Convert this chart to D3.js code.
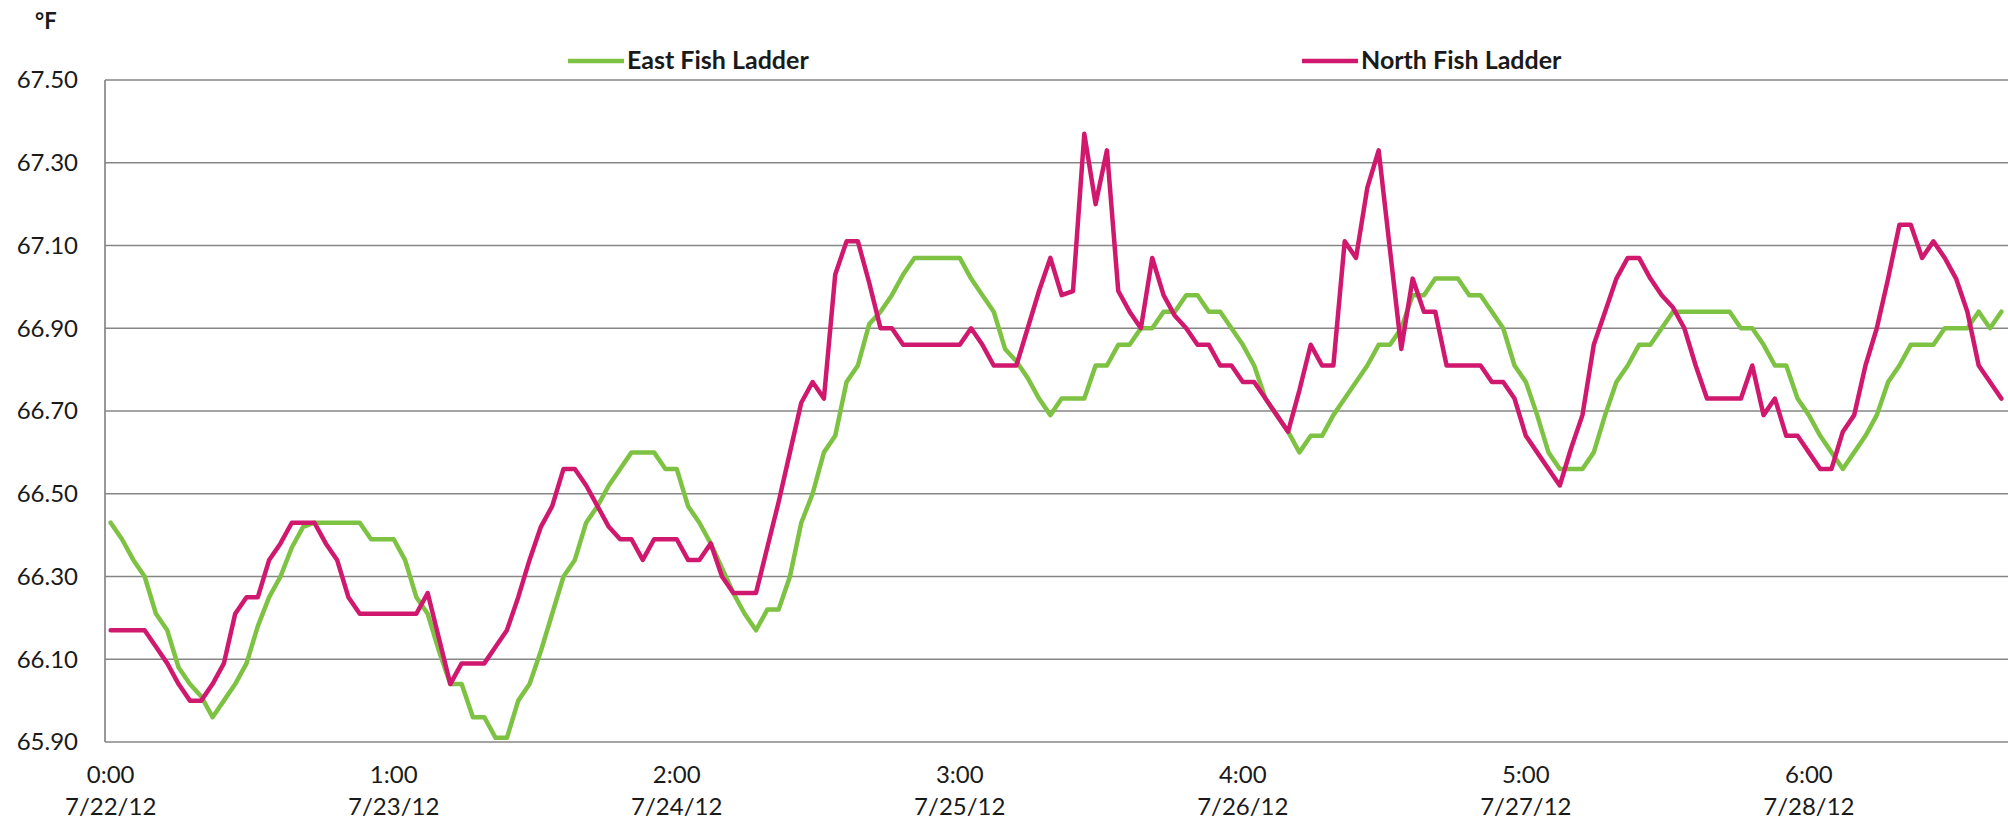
<!DOCTYPE html>
<html>
<head>
<meta charset="utf-8">
<script src="https://cdn.jsdelivr.net/npm/d3@7"></script>
<style>
  html, body { margin: 0; padding: 0; background: #fff; }
  text { font-family: Lato, 'Open Sans', sans-serif; fill: #1a1a1a; }
</style>
</head>
<body>
<div class="canvas"></div>
<script>
// hourly readings, 7/22/12 0:00 onward (deg F)
const eastFishLadder = [
  66.43, 66.39, 66.34, 66.30, 66.21, 66.17, 66.08, 66.04, 66.01, 65.96,
  66.00, 66.04, 66.09, 66.18, 66.25, 66.30, 66.37, 66.42, 66.43, 66.43,
  66.43, 66.43, 66.43, 66.39, 66.39, 66.39, 66.34, 66.25, 66.21, 66.12,
  66.04, 66.04, 65.96, 65.96, 65.91, 65.91, 66.00, 66.04, 66.12, 66.21,
  66.30, 66.34, 66.43, 66.47, 66.52, 66.56, 66.60, 66.60, 66.60, 66.56,
  66.56, 66.47, 66.43, 66.38, 66.32, 66.26, 66.21, 66.17, 66.22, 66.22,
  66.30, 66.43, 66.50, 66.60, 66.64, 66.77, 66.81, 66.91, 66.94, 66.98,
  67.03, 67.07, 67.07, 67.07, 67.07, 67.07, 67.02, 66.98, 66.94, 66.85,
  66.82, 66.78, 66.73, 66.69, 66.73, 66.73, 66.73, 66.81, 66.81, 66.86,
  66.86, 66.90, 66.90, 66.94, 66.94, 66.98, 66.98, 66.94, 66.94, 66.90,
  66.86, 66.81, 66.73, 66.69, 66.65, 66.60, 66.64, 66.64, 66.69, 66.73,
  66.77, 66.81, 66.86, 66.86, 66.90, 66.98, 66.98, 67.02, 67.02, 67.02,
  66.98, 66.98, 66.94, 66.90, 66.81, 66.77, 66.69, 66.60, 66.56, 66.56,
  66.56, 66.60, 66.69, 66.77, 66.81, 66.86, 66.86, 66.90, 66.94, 66.94,
  66.94, 66.94, 66.94, 66.94, 66.90, 66.90, 66.86, 66.81, 66.81, 66.73,
  66.69, 66.64, 66.60, 66.56, 66.60, 66.64, 66.69, 66.77, 66.81, 66.86,
  66.86, 66.86, 66.90, 66.90, 66.90, 66.94, 66.90, 66.94
];

const northFishLadder = [
  66.17, 66.17, 66.17, 66.17, 66.13, 66.09, 66.04, 66.00, 66.00, 66.04,
  66.09, 66.21, 66.25, 66.25, 66.34, 66.38, 66.43, 66.43, 66.43, 66.38,
  66.34, 66.25, 66.21, 66.21, 66.21, 66.21, 66.21, 66.21, 66.26, 66.15,
  66.04, 66.09, 66.09, 66.09, 66.13, 66.17, 66.25, 66.34, 66.42, 66.47,
  66.56, 66.56, 66.52, 66.47, 66.42, 66.39, 66.39, 66.34, 66.39, 66.39,
  66.39, 66.34, 66.34, 66.38, 66.30, 66.26, 66.26, 66.26, 66.37, 66.48,
  66.60, 66.72, 66.77, 66.73, 67.03, 67.11, 67.11, 67.01, 66.90, 66.90,
  66.86, 66.86, 66.86, 66.86, 66.86, 66.86, 66.90, 66.86, 66.81, 66.81,
  66.81, 66.90, 66.99, 67.07, 66.98, 66.99, 67.37, 67.20, 67.33, 66.99,
  66.94, 66.90, 67.07, 66.98, 66.93, 66.90, 66.86, 66.86, 66.81, 66.81,
  66.77, 66.77, 66.73, 66.69, 66.65, 66.75, 66.86, 66.81, 66.81, 67.11,
  67.07, 67.24, 67.33, 67.09, 66.85, 67.02, 66.94, 66.94, 66.81, 66.81,
  66.81, 66.81, 66.77, 66.77, 66.73, 66.64, 66.60, 66.56, 66.52, 66.61,
  66.69, 66.86, 66.94, 67.02, 67.07, 67.07, 67.02, 66.98, 66.95, 66.90,
  66.81, 66.73, 66.73, 66.73, 66.73, 66.81, 66.69, 66.73, 66.64, 66.64,
  66.60, 66.56, 66.56, 66.65, 66.69, 66.81, 66.90, 67.02, 67.15, 67.15,
  67.07, 67.11, 67.07, 67.02, 66.94, 66.81, 66.77, 66.73
];

// category labels shown every 25 points
const tickIndex = [0, 25, 50, 75, 100, 125, 150];
const tickTimes = ['0:00', '1:00', '2:00', '3:00', '4:00', '5:00', '6:00'];
const tickDates = ['7/22/12', '7/23/12', '7/24/12', '7/25/12', '7/26/12', '7/27/12', '7/28/12'];

const yTicks = [65.9, 66.1, 66.3, 66.5, 66.7, 66.9, 67.1, 67.3, 67.5];

const seriesNames = ['East Fish Ladder', 'North Fish Ladder'];
const seriesColors = ['#7dc242', '#d0186e'];

const width = 2008;
const height = 827;
const margin = { top: 80, right: 1, bottom: 85, left: 105 };

const svg = d3.select('.canvas').append('svg')
    .attr('width', width)
    .attr('height', height);

const x = d3.scaleBand()
    .domain(d3.range(eastFishLadder.length))
    .range([margin.left, width - margin.right])
    .paddingInner(0)
    .paddingOuter(0);

const y = d3.scaleLinear()
    .domain([65.9, 67.5])
    .range([height - margin.bottom, margin.top]);

const cx = i => x(i) + x.bandwidth() / 2;

// gridlines
svg.append('g')
  .selectAll('line')
  .data(yTicks)
  .join('line')
    .attr('x1', margin.left)
    .attr('x2', width)
    .attr('y1', d => y(d))
    .attr('y2', d => y(d))
    .attr('stroke', '#868686')
    .attr('stroke-width', 1.7);

// y axis line
svg.append('line')
    .attr('x1', margin.left)
    .attr('x2', margin.left)
    .attr('y1', y(67.5))
    .attr('y2', y(65.9))
    .attr('stroke', '#868686')
    .attr('stroke-width', 1.7);

// y tick labels
svg.append('g')
  .selectAll('text')
  .data(yTicks)
  .join('text')
    .attr('x', 78)
    .attr('y', d => y(d))
    .attr('dy', '0.35em')
    .attr('text-anchor', 'end')
    .style('font-size', '24px')
    .text(d3.format('.2f'));

svg.append('text')
    .attr('x', 35)
    .attr('y', 29)
    .style('font-size', '22px')
    .attr('font-weight', 'bold')
    .text('°F');

// x tick labels (two lines)
const xLab = svg.append('g')
  .selectAll('text')
  .data(tickIndex)
  .join('text')
    .attr('text-anchor', 'middle')
    .style('font-size', '24px');

xLab.append('tspan')
    .attr('x', d => cx(d))
    .attr('y', 783)
    .text((d, i) => tickTimes[i]);

xLab.append('tspan')
    .attr('x', d => cx(d))
    .attr('y', 815)
    .text((d, i) => tickDates[i]);

// series lines
const line = d3.line()
    .x((d, i) => cx(i))
    .y(d => y(d));

svg.append('g')
  .selectAll('path')
  .data([eastFishLadder, northFishLadder])
  .join('path')
    .attr('d', line)
    .attr('fill', 'none')
    .attr('stroke', (d, i) => seriesColors[i])
    .attr('stroke-width', 4.5)
    .attr('stroke-linejoin', 'round')
    .attr('stroke-linecap', 'round');

// legend
const legendX = [568, 1302];
const legend = svg.append('g')
  .selectAll('g')
  .data(seriesNames)
  .join('g')
    .attr('transform', (d, i) => `translate(${legendX[i]}, 61)`);

legend.append('line')
    .attr('x1', 0)
    .attr('x2', 56)
    .attr('stroke', (d, i) => seriesColors[i])
    .attr('stroke-width', 4.5);

legend.append('text')
    .attr('x', 59)
    .attr('y', 8)
    .style('font-size', '25px')
    .attr('font-weight', 'bold')
    .text(d => d);
</script>
</body>
</html>
